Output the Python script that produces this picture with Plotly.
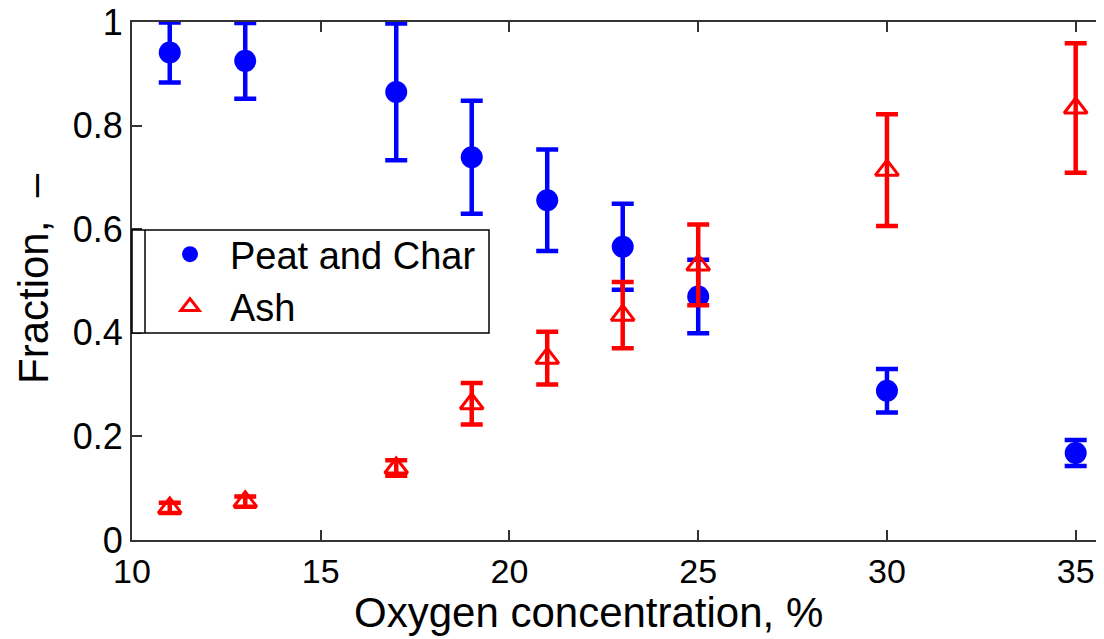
import plotly.graph_objects as go

oxygen = [11, 13, 17, 19, 21, 23, 25, 30, 35]
peat_char = [0.941, 0.925, 0.865, 0.739, 0.656, 0.566, 0.470, 0.288, 0.168]
peat_char_err = [0.058, 0.073, 0.132, 0.109, 0.098, 0.083, 0.071, 0.042, 0.025]
ash = [0.062, 0.074, 0.139, 0.263, 0.351, 0.434, 0.531, 0.714, 0.834]
ash_err = [0.010, 0.010, 0.015, 0.040, 0.051, 0.064, 0.078, 0.108, 0.125]
x_ticks = [10, 15, 20, 25, 30, 35]
y_ticks = [0, 0.2, 0.4, 0.6, 0.8, 1]
y_tick_text = ["0", "0.2", "0.4", "0.6", "0.8", "1"]

font = "Liberation Sans, Arial, sans-serif"

# the page body has an 8px default margin, so the figure is drawn 8px smaller
W, H = 1096, 631
ML, MT, PW, PH = 124, 14, 972, 518
OFF = 8


def px_x(px):
    return (px - OFF - ML) / PW


def px_y(py):
    return (MT + PH - (py - OFF)) / PH


fig = go.Figure()
fig.add_trace(go.Scatter(
    x=oxygen, y=peat_char, mode="markers", name="Peat and Char",
    marker=dict(symbol="circle", size=22, color="#0000ff"),
    error_y=dict(type="data", array=peat_char_err, color="#0000ff",
                 thickness=4.5, width=11),
))
fig.add_trace(go.Scatter(
    x=oxygen, y=ash, mode="markers", name="Ash",
    marker=dict(symbol="triangle-up-open", size=20, color="#ff0000",
                line=dict(width=3, color="#ff0000")),
    error_y=dict(type="data", array=ash_err, color="#ff0000",
                 thickness=4.5, width=11),
))

# legend frame (box starts at the y axis, with an inner left rule)
L0, L1 = 0.0, px_x(489)
T0, T1 = px_y(333), px_y(230)
fig.add_shape(type="rect", xref="paper", yref="paper", x0=L0, x1=L1, y0=T0, y1=T1,
              line=dict(color="black", width=1.5), fillcolor="white", layer="above")
fig.add_shape(type="line", xref="paper", yref="paper", x0=px_x(145), x1=px_x(145),
              y0=T0, y1=T1, line=dict(color="black", width=1.5), layer="above")

fig.update_layout(
    width=W, height=H,
    margin=dict(l=ML, r=W - ML - PW, t=MT, b=H - MT - PH),
    paper_bgcolor="white", plot_bgcolor="white",
    font=dict(family=font, size=34, color="black"),
    showlegend=True,
    legend=dict(
        x=px_x(150), y=px_y(223), xanchor="left", yanchor="top",
        bgcolor="rgba(0,0,0,0)", borderwidth=0,
        font=dict(family=font, size=38, color="black"),
        itemwidth=70, tracegroupgap=0,
    ),
    xaxis=dict(
        range=[10, 35.75], tickvals=x_ticks, ticks="inside", ticklen=10,
        tickwidth=1.5, tickcolor="#333333",
        showline=True, linecolor="#333333", linewidth=2, mirror="allticks",
        showgrid=False, zeroline=False, automargin=False,
        tickfont=dict(family=font, size=34), ticklabeloverflow="allow",
    ),
    yaxis=dict(
        range=[0, 1], tickvals=y_ticks, ticktext=y_tick_text, ticks="inside",
        ticklen=10, tickwidth=1.5, tickcolor="#333333",
        showline=True, linecolor="#333333", linewidth=2, mirror=False,
        showgrid=False, zeroline=False, automargin=False,
        tickfont=dict(family=font, size=36), ticklabeloverflow="allow",
    ),
    annotations=[
        dict(text="Oxygen concentration, %", xref="paper", yref="paper",
             x=px_x(588), y=px_y(612), xanchor="center",
             yanchor="middle", showarrow=False, font=dict(family=font, size=42)),
        dict(text="Fraction,\u00a0\u00a0\u2013", xref="paper", yref="paper",
             x=px_x(33), y=px_y(279), xanchor="center",
             yanchor="middle", textangle=-90, showarrow=False,
             font=dict(family=font, size=42)),
    ],
)

fig.write_html("out.html")
